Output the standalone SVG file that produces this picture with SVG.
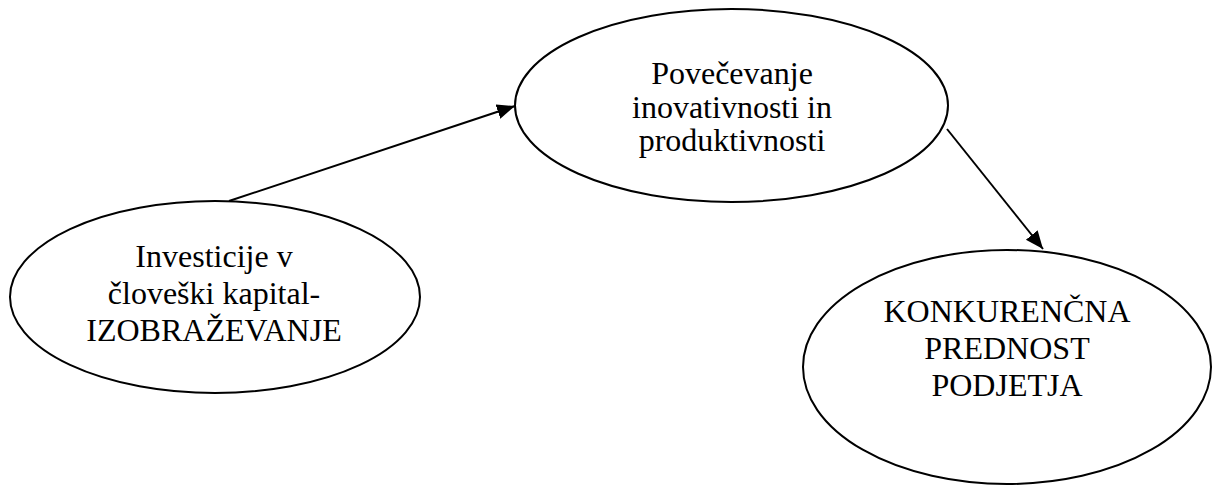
<svg xmlns="http://www.w3.org/2000/svg" width="1212" height="486" viewBox="0 0 1212 486">
<defs>
<style>
.node ellipse{fill:#fff;stroke:#000;stroke-width:2}
.node text{font-family:"Liberation Serif","Times New Roman",serif;font-size:32px;fill:#000;text-anchor:middle}
.edge{stroke:#000;stroke-width:2;fill:none}
</style>
<marker id="arr" markerUnits="userSpaceOnUse" markerWidth="20" markerHeight="16" refX="18" refY="7.5" orient="auto">
<path d="M0,0 L18,7.5 L0,15 Z" fill="#000"/>
</marker>
</defs>
<g id="connectors">
<line class="edge" x1="229" y1="201" x2="515" y2="106" marker-end="url(#arr)"/>
<line class="edge" x1="947" y1="129" x2="1043" y2="249" marker-end="url(#arr)"/>
</g>
<g id="node-investicije" class="node">
<ellipse cx="215" cy="297" rx="205" ry="96"/>
<text x="214" y="267">Investicije v</text>
<text x="214" y="304">človeški kapital-</text>
<text x="214" y="341">IZOBRAŽEVANJE</text>
</g>
<g id="node-povecevanje" class="node">
<ellipse cx="731.5" cy="105.5" rx="216.5" ry="96.5"/>
<text x="732" y="84">Povečevanje</text>
<text x="732" y="118">inovativnosti in</text>
<text x="732" y="151">produktivnosti</text>
</g>
<g id="node-konkurencna" class="node">
<ellipse cx="1007" cy="367" rx="204" ry="117"/>
<text x="1007" y="322">KONKURENČNA</text>
<text x="1007" y="359">PREDNOST</text>
<text x="1007" y="396">PODJETJA</text>
</g>
</svg>
